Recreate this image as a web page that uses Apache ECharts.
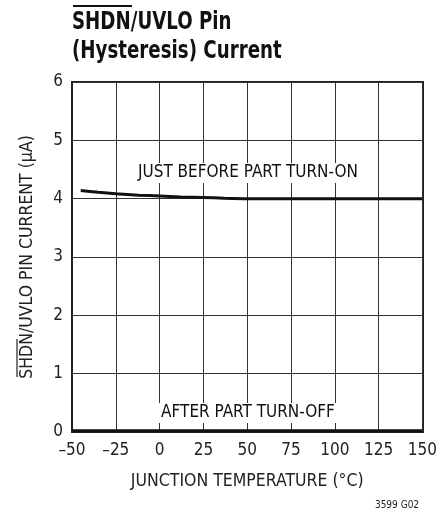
<!DOCTYPE html>
<html><head><meta charset="utf-8">
<script src="https://cdn.jsdelivr.net/npm/echarts@6/dist/echarts.min.js"></script>
<style>html,body{margin:0;padding:0;background:#fff}#c{width:440px;height:515px}</style>
</head><body><div id="c"></div>
<script>
var FONT = '"DejaVu Sans Condensed","Liberation Sans Narrow",sans-serif';
var temps = [-45, -35, -25, -12, 0, 12, 25, 37, 50, 75, 100, 125, 150];
var turnOnCurrent = [4.14, 4.11, 4.085, 4.06, 4.045, 4.03, 4.02, 4.008, 4.0, 4.0, 4.0, 4.0, 4.0];
var offTemps = [-50, 150];
var turnOffCurrent = [0.02, 0.02];

function pairs(xs, ys){ return xs.map(function(x,i){return [x, ys[i]];}); }

var chart = echarts.init(document.getElementById('c'), null, {renderer:'canvas'});
chart.setOption({
  animation:false,
  grid:{left:72, right:17, top:82, bottom:83},
  xAxis:{type:'value', min:-50, max:150, interval:25,
    axisLine:{show:true, onZero:false, lineStyle:{color:'#222', width:2}},
    axisTick:{show:false},
    splitLine:{show:true, lineStyle:{color:'#333', width:1}},
    axisLabel:{color:'#222', fontSize:17, fontFamily:FONT, margin:10,
      formatter:function(v){return String(v).replace('-', '\u2013');}},
    name:'JUNCTION TEMPERATURE (°C)', nameLocation:'middle', nameGap:40,
    nameTextStyle:{color:'#222', fontSize:17.5, fontFamily:FONT}
  },
  yAxis:{type:'value', min:0, max:6, interval:1,
    axisLine:{show:true, onZero:false, lineStyle:{color:'#222', width:2}},
    axisTick:{show:false},
    splitLine:{show:true, lineStyle:{color:'#333', width:1}},
    axisLabel:{color:'#222', fontSize:17, fontFamily:FONT, margin:9},
    name:'SHDN/UVLO PIN CURRENT (µA)', nameLocation:'middle', nameGap:36,
    nameTextStyle:{color:'#222', fontSize:17.5, fontFamily:FONT}
  },
  series:[
    {type:'line', data:pairs(temps, turnOnCurrent), smooth:0.2, symbol:'none',
     lineStyle:{color:'#111', width:3}},
    {type:'line', data:pairs(offTemps, turnOffCurrent), symbol:'none',
     lineStyle:{color:'#111', width:3}}
  ],
  graphic:[
    {type:'rect', shape:{x:72, y:82, width:351, height:350}, silent:true,
     style:{fill:'none', stroke:'#222', lineWidth:2}},
    {type:'text', x:72, y:8, scaleX:0.81, style:{text:'SHDN/UVLO Pin\n(Hysteresis) Current', fill:'#111',
      font:'bold 25px '+FONT, lineHeight:29, textVerticalAlign:'top'}},
    {type:'line', shape:{x1:73, y1:6, x2:132, y2:6}, style:{stroke:'#111', lineWidth:2}},
    {type:'line', shape:{x1:17, y1:339, x2:17, y2:377}, style:{stroke:'#222', lineWidth:1.2}},
    {type:'rect', shape:{x:132, y:163, width:232, height:20}, style:{fill:'#fff'}, z:10},
    {type:'text', x:248, y:173, z:11, style:{text:'JUST BEFORE PART TURN-ON', fill:'#111',
      font:'17px '+FONT, textAlign:'center', textVerticalAlign:'middle'}},
    {type:'rect', shape:{x:157, y:403, width:184, height:20}, style:{fill:'#fff'}, z:10},
    {type:'text', x:248, y:413, z:11, style:{text:'AFTER PART TURN-OFF', fill:'#111',
      font:'17px '+FONT, textAlign:'center', textVerticalAlign:'middle'}},
    {type:'text', x:397, y:505, style:{text:'3599 G02', fill:'#222',
      font:'10px '+FONT, textAlign:'center', textVerticalAlign:'middle'}}
  ]
});
</script></body></html>
